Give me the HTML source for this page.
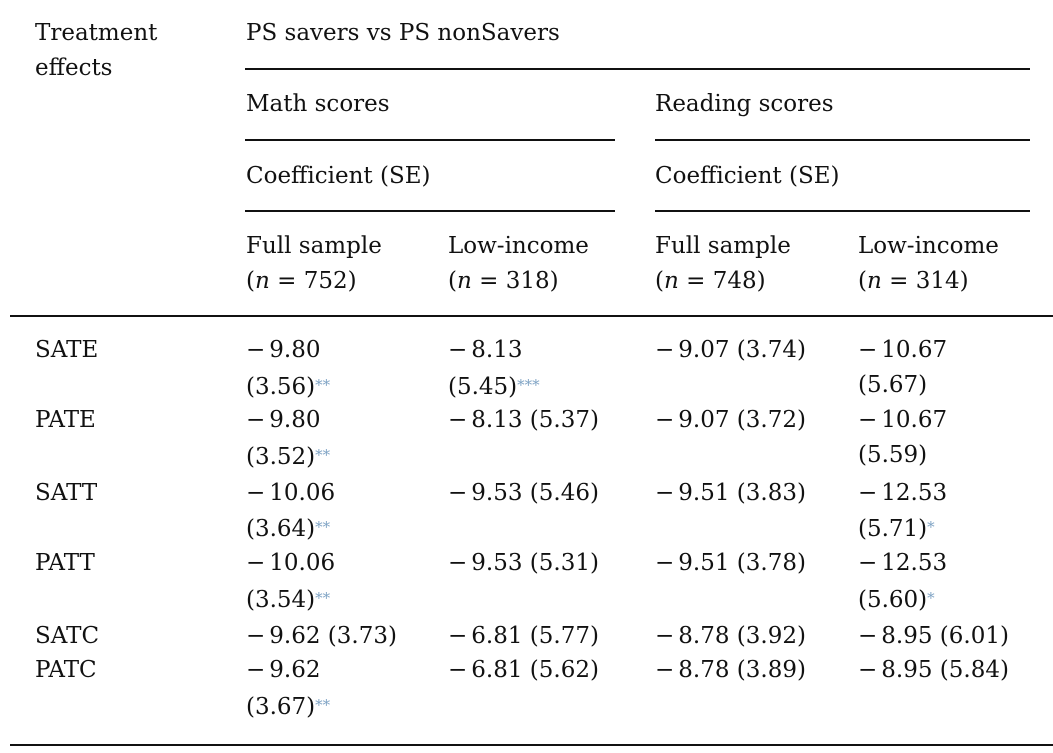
<!DOCTYPE html>
<html><head><meta charset="utf-8"><style>
body{margin:0;width:1053px;height:753px;background:#fff;position:relative;overflow:hidden;font-family:"DejaVu Serif","Liberation Serif",serif;font-size:23px;color:#111}
.t{position:absolute;line-height:24px;white-space:nowrap}
.s{color:#7fa3c4;font-size:15px;vertical-align:4px}
.m{margin-right:4px}
.l{position:absolute;height:1.5px;background:#111}
</style></head><body>
<div class="l" style="left:245px;top:68px;width:785px"></div>
<div class="l" style="left:245px;top:139px;width:370px"></div>
<div class="l" style="left:655px;top:139px;width:375px"></div>
<div class="l" style="left:245px;top:210px;width:370px"></div>
<div class="l" style="left:655px;top:210px;width:375px"></div>
<div class="l" style="left:10px;top:315px;width:1043px"></div>
<div class="l" style="left:10px;top:744px;width:1043px"></div>

<div class="t" style="left:35px;top:21px">Treatment</div>
<div class="t" style="left:35px;top:56px">effects</div>
<div class="t" style="left:246px;top:21px">PS savers vs PS nonSavers</div>
<div class="t" style="left:246px;top:92px">Math scores</div>
<div class="t" style="left:655px;top:92px">Reading scores</div>
<div class="t" style="left:246px;top:164px">Coefficient (SE)</div>
<div class="t" style="left:655px;top:164px">Coefficient (SE)</div>
<div class="t" style="left:246px;top:234px">Full sample</div>
<div class="t" style="left:448px;top:234px">Low-income</div>
<div class="t" style="left:655px;top:234px">Full sample</div>
<div class="t" style="left:858px;top:234px">Low-income</div>
<div class="t" style="left:246px;top:269px">(<i>n</i> = 752)</div>
<div class="t" style="left:448px;top:269px">(<i>n</i> = 318)</div>
<div class="t" style="left:655px;top:269px">(<i>n</i> = 748)</div>
<div class="t" style="left:858px;top:269px">(<i>n</i> = 314)</div>

<div class="t" style="left:35px;top:338px">SATE</div>
<div class="t" style="left:246px;top:338px"><span class="m">−</span>9.80</div>
<div class="t" style="left:246px;top:373px">(3.56)<span class="s">**</span></div>
<div class="t" style="left:448px;top:338px"><span class="m">−</span>8.13</div>
<div class="t" style="left:448px;top:373px">(5.45)<span class="s">***</span></div>
<div class="t" style="left:655px;top:338px"><span class="m">−</span>9.07 (3.74)</div>
<div class="t" style="left:858px;top:338px"><span class="m">−</span>10.67</div>
<div class="t" style="left:858px;top:373px">(5.67)</div>

<div class="t" style="left:35px;top:408px">PATE</div>
<div class="t" style="left:246px;top:408px"><span class="m">−</span>9.80</div>
<div class="t" style="left:246px;top:443px">(3.52)<span class="s">**</span></div>
<div class="t" style="left:448px;top:408px"><span class="m">−</span>8.13 (5.37)</div>
<div class="t" style="left:655px;top:408px"><span class="m">−</span>9.07 (3.72)</div>
<div class="t" style="left:858px;top:408px"><span class="m">−</span>10.67</div>
<div class="t" style="left:858px;top:443px">(5.59)</div>

<div class="t" style="left:35px;top:481px">SATT</div>
<div class="t" style="left:246px;top:481px"><span class="m">−</span>10.06</div>
<div class="t" style="left:246px;top:515px">(3.64)<span class="s">**</span></div>
<div class="t" style="left:448px;top:481px"><span class="m">−</span>9.53 (5.46)</div>
<div class="t" style="left:655px;top:481px"><span class="m">−</span>9.51 (3.83)</div>
<div class="t" style="left:858px;top:481px"><span class="m">−</span>12.53</div>
<div class="t" style="left:858px;top:515px">(5.71)<span class="s">*</span></div>

<div class="t" style="left:35px;top:551px">PATT</div>
<div class="t" style="left:246px;top:551px"><span class="m">−</span>10.06</div>
<div class="t" style="left:246px;top:586px">(3.54)<span class="s">**</span></div>
<div class="t" style="left:448px;top:551px"><span class="m">−</span>9.53 (5.31)</div>
<div class="t" style="left:655px;top:551px"><span class="m">−</span>9.51 (3.78)</div>
<div class="t" style="left:858px;top:551px"><span class="m">−</span>12.53</div>
<div class="t" style="left:858px;top:586px">(5.60)<span class="s">*</span></div>

<div class="t" style="left:35px;top:624px">SATC</div>
<div class="t" style="left:246px;top:624px"><span class="m">−</span>9.62 (3.73)</div>
<div class="t" style="left:448px;top:624px"><span class="m">−</span>6.81 (5.77)</div>
<div class="t" style="left:655px;top:624px"><span class="m">−</span>8.78 (3.92)</div>
<div class="t" style="left:858px;top:624px"><span class="m">−</span>8.95 (6.01)</div>

<div class="t" style="left:35px;top:658px">PATC</div>
<div class="t" style="left:246px;top:658px"><span class="m">−</span>9.62</div>
<div class="t" style="left:246px;top:693px">(3.67)<span class="s">**</span></div>
<div class="t" style="left:448px;top:658px"><span class="m">−</span>6.81 (5.62)</div>
<div class="t" style="left:655px;top:658px"><span class="m">−</span>8.78 (3.89)</div>
<div class="t" style="left:858px;top:658px"><span class="m">−</span>8.95 (5.84)</div>
</body></html>
